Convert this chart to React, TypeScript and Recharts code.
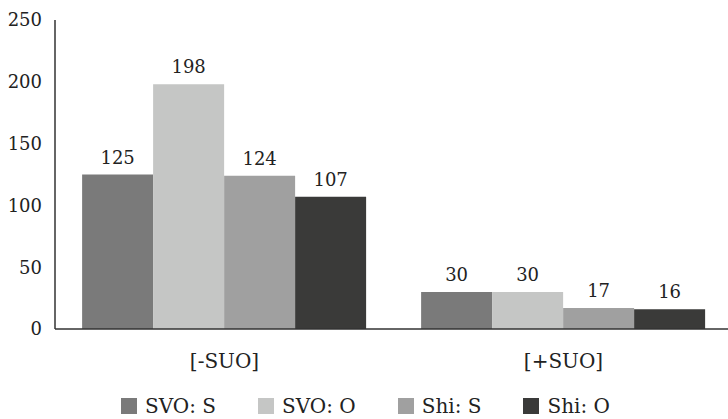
import React from "react";
import { Bar, BarChart, LabelList, Legend, XAxis, YAxis } from "recharts";

const groups = ["[-SUO]", "[+SUO]"];
const svoS = [125, 30];
const svoO = [198, 30];
const shiS = [124, 17];
const shiO = [107, 16];
const yTicks = [0, 50, 100, 150, 200, 250];

const series = [
  { key: "svoS", name: "SVO: S", values: svoS, color: "#7a7a7a" },
  { key: "svoO", name: "SVO: O", values: svoO, color: "#c5c6c5" },
  { key: "shiS", name: "Shi: S", values: shiS, color: "#a0a0a0" },
  { key: "shiO", name: "Shi: O", values: shiO, color: "#3a3a39" },
];

const data = groups.map((group, i) => {
  const row: Record<string, string | number> = { group };
  series.forEach((s) => {
    row[s.key] = s.values[i];
  });
  return row;
});

const FONT = "DejaVu Serif";
const NUM_SIZE = 18;
const WORD_SIZE = 20;
const TEXT = "#222";

// legend keeps the series order rather than the sorted payload
const LegendRow = () => (
  <div
    style={{
      display: "flex",
      alignItems: "center",
      gap: 42,
      height: 34,
      boxSizing: "border-box",
      paddingTop: 8,
      paddingLeft: 121,
      fontFamily: FONT,
      fontSize: WORD_SIZE,
      lineHeight: "22px",
      color: TEXT,
    }}
  >
    {series.map((s) => (
      <div key={s.key} style={{ display: "flex", alignItems: "center" }}>
        <span style={{ width: 16, height: 16, background: s.color, marginRight: 8 }} />
        <span>{s.name}</span>
      </div>
    ))}
  </div>
);

const App = () => {
  return (
    <div
      style={{
        position: "absolute",
        left: 0,
        top: 0,
        width: 728,
        height: 419,
        overflow: "hidden",
        background: "#fff",
        fontFamily: FONT,
      }}
    >
      <BarChart
        width={740}
        height={419}
        data={data}
        margin={{ top: 20, right: 7, left: 0, bottom: 0 }}
        barGap={0}
        barCategoryGap="8%"
        style={{ fontFamily: FONT }}
      >
        <XAxis
          dataKey="group"
          height={56}
          tickLine={false}
          tickSize={0}
          tickMargin={25}
          axisLine={{ stroke: "#333", strokeWidth: 1.5 }}
          tick={{ fill: TEXT, fontFamily: FONT, fontSize: WORD_SIZE }}
        />
        <YAxis
          width={55}
          domain={[0, 250]}
          ticks={yTicks}
          tickLine={false}
          tickSize={0}
          tickMargin={13}
          axisLine={{ stroke: "#333", strokeWidth: 1.5 }}
          tick={{ fill: TEXT, fontFamily: FONT, fontSize: NUM_SIZE }}
        />
        <Legend verticalAlign="bottom" height={34} content={<LegendRow />} />
        {series.map((s) => (
          <Bar key={s.key} dataKey={s.key} name={s.name} fill={s.color} isAnimationActive={false}>
            <LabelList
              dataKey={s.key}
              position="top"
              offset={11}
              fill={TEXT}
              fontFamily={FONT}
              fontSize={NUM_SIZE}
            />
          </Bar>
        ))}
      </BarChart>
    </div>
  );
};

export default App;
